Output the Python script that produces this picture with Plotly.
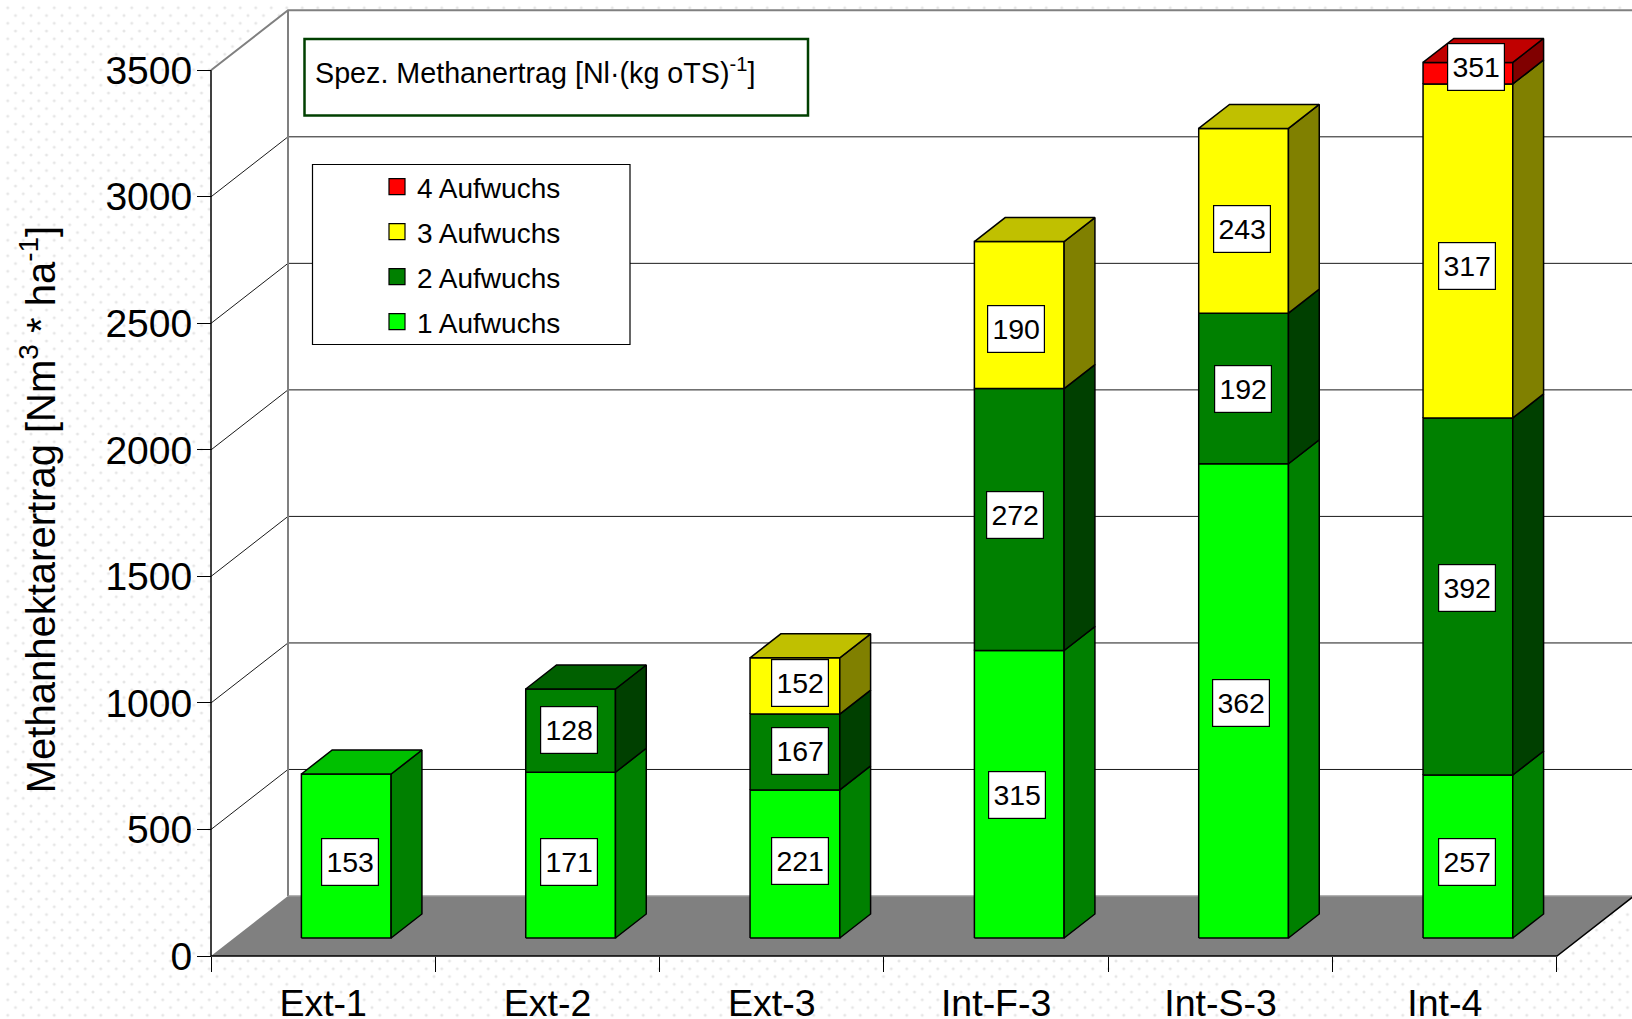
import plotly.graph_objects as go

# Cultivation systems along the x axis
categories = ["Ext-1", "Ext-2", "Ext-3", "Int-F-3", "Int-S-3", "Int-4"]

# Methane yield per hectare of each cut [Nm3/ha]
cut_1 = [648, 655, 585, 1136, 1874, 644]
cut_2 = [0, 329, 300, 1035, 595, 1411]
cut_3 = [0, 0, 222, 581, 730, 1320]
cut_4 = [0, 0, 0, 0, 0, 85]

# Specific methane yield printed on each segment [Nl/kg oTS]
spez_1 = [153, 171, 221, 315, 362, 257]
spez_2 = [None, 128, 167, 272, 192, 392]
spez_3 = [None, None, 152, 190, 243, 317]
spez_4 = [None, None, None, None, None, 351]

# Where the printed values sit, in axis units
spez_x_1 = [0.621, 1.594, 2.626, 3.593, 4.590, 5.599]
spez_y_1 = [370, 370, 377, 635, 999, 373]
spez_x_2 = [None, 1.594, 2.626, 3.583, 4.600, 5.599]
spez_y_2 = [None, 895, 812, 1744, 2241, 1456]
spez_x_3 = [None, None, 2.626, 3.588, 4.594, 5.599]
spez_y_3 = [None, None, 1077, 2476, 2873, 2725]
spez_x_4 = [None, None, None, None, None, 5.639]
spez_y_4 = [None, None, None, None, None, 3512]

y_ticks = [0, 500, 1000, 1500, 2000, 2500, 3000, 3500]

WIDTH, HEIGHT = 1632, 1019
PX_PER_CAT = 224.33
PX_PER_UNIT = 0.25306
ORIGIN_X, ORIGIN_Y = 211, 956
FONT = "Liberation Sans"

# Oblique projection: a full step into the chart moves right and up by this much
DEPTH_X = 77 / PX_PER_CAT
DEPTH_Y = 60 / PX_PER_UNIT
BAR_HALF = 0.2
BAR_NEAR, BAR_FAR = 0.3, 0.7

X_MIN = -ORIGIN_X / PX_PER_CAT
X_MAX = (WIDTH - ORIGIN_X) / PX_PER_CAT
Y_MIN = -(HEIGHT - ORIGIN_Y) / PX_PER_UNIT
Y_MAX = ORIGIN_Y / PX_PER_UNIT

series = [
    dict(name="1 Aufwuchs", values=cut_1, front="#00FF00", side="#008000", top="#00C000",
         spez=spez_1, sx=spez_x_1, sy=spez_y_1),
    dict(name="2 Aufwuchs", values=cut_2, front="#008000", side="#004000", top="#006000",
         spez=spez_2, sx=spez_x_2, sy=spez_y_2),
    dict(name="3 Aufwuchs", values=cut_3, front="#FFFF00", side="#808000", top="#C0C000",
         spez=spez_3, sx=spez_x_3, sy=spez_y_3),
    dict(name="4 Aufwuchs", values=cut_4, front="#FF0000", side="#800000", top="#C00000",
         spez=spez_4, sx=spez_x_4, sy=spez_y_4),
]

MAIN = dict(xaxis="x3", yaxis="y3")


def project(x, y, depth):
    return x + depth * DEPTH_X, y + depth * DEPTH_Y


def polygon(points, fill, line_color="#000000", line_width=1.5, name=None):
    xs = []
    ys = []
    for poly in points:
        closed = poly + [poly[0]]
        xs += [p[0] for p in closed] + [None]
        ys += [p[1] for p in closed] + [None]
    return go.Scatter(x=xs, y=ys, mode="lines", fill="toself", fillcolor=fill,
                      line=dict(color=line_color, width=line_width, simplify=False),
                      hoverinfo="skip", showlegend=False, name=name, **MAIN)


def segment(x0, x1, y0, y1, depth0, depth1, face):
    """Corner points of one face of a cuboid."""
    if face == "front":
        return [project(x0, y0, depth0), project(x1, y0, depth0),
                project(x1, y1, depth0), project(x0, y1, depth0)]
    if face == "side":
        return [project(x1, y0, depth0), project(x1, y0, depth1),
                project(x1, y1, depth1), project(x1, y1, depth0)]
    return [project(x0, y1, depth0), project(x1, y1, depth0),
            project(x1, y1, depth1), project(x0, y1, depth1)]


def wall_line(points, color="#000000", width=1.0):
    return go.Scatter(x=[p[0] for p in points], y=[p[1] for p in points], mode="lines",
                      line=dict(color=color, width=width), hoverinfo="skip",
                      showlegend=False, **MAIN)


traces = []

# Dotted page texture, two staggered lattices on hidden helper axes
for xa, ya in (("x", "y"), ("x2", "y2")):
    traces.append(go.Scatter(
        x=[0, 1, 1, 0, 0], y=[0, 0, 1, 1, 0], mode="lines", fill="toself",
        fillcolor="rgba(0,0,0,0)", line=dict(width=0), cliponaxis=False,
        fillpattern=dict(shape=".", size=15.5, solidity=0.03, fgcolor="#E6E6E6",
                         bgcolor="rgba(0,0,0,0)", fgopacity=1),
        hoverinfo="skip", showlegend=False, xaxis=xa, yaxis=ya))

top_level = y_ticks[-1]
wall_right = 6 + DEPTH_X

# White chart box: side wall and back wall
traces.append(polygon([[(0, 0), (0, top_level), (DEPTH_X, top_level + DEPTH_Y),
                        (wall_right, top_level + DEPTH_Y), (wall_right, DEPTH_Y), (6, 0)]],
                      "#FFFFFF", "rgba(0,0,0,0)", 0))

# Floor
traces.append(polygon([[(0, 0), (DEPTH_X, DEPTH_Y), (wall_right, DEPTH_Y), (6, 0)]],
                      "#808080", "rgba(0,0,0,0)", 0))

# Grid lines running along the side wall and the back wall
for level in y_ticks[1:-1]:
    traces.append(wall_line([(0, level), (DEPTH_X, level + DEPTH_Y), (wall_right, level + DEPTH_Y)],
                            "#1A1A1A", 1.0))
traces.append(wall_line([(0, top_level), (DEPTH_X, top_level + DEPTH_Y), (wall_right, top_level + DEPTH_Y)],
                        "#808080", 2.0))
traces.append(wall_line([(DEPTH_X, DEPTH_Y), (DEPTH_X, top_level + DEPTH_Y)], "#808080", 2.0))
traces.append(wall_line([(DEPTH_X, DEPTH_Y), (wall_right, DEPTH_Y)], "#9A9A9A", 1.5))

# Floor edges and the value axis line
traces.append(wall_line([(0, 0), (6, 0), (wall_right, DEPTH_Y)], "#000000", 1.5))
traces.append(wall_line([(0, 0), (0, top_level)], "#000000", 1.5))

# Stacked cuboids, bottom cut first
stack_top = [0] * len(categories)
for idx, s in enumerate(series):
    fronts, sides, tops = [], [], []
    for i, value in enumerate(s["values"]):
        if not value:
            continue
        x0 = i + 0.5 - BAR_HALF
        x1 = i + 0.5 + BAR_HALF
        y0 = stack_top[i]
        y1 = y0 + value
        stack_top[i] = y1
        fronts.append(segment(x0, x1, y0, y1, BAR_NEAR, BAR_FAR, "front"))
        sides.append(segment(x0, x1, y0, y1, BAR_NEAR, BAR_FAR, "side"))
        # The lid is only visible on the highest cut of a stack
        if all(not later["values"][i] for later in series[idx + 1:]):
            tops.append(segment(x0, x1, y0, y1, BAR_NEAR, BAR_FAR, "top"))
    traces.append(polygon(fronts, s["front"], name=s["name"]))
    traces.append(polygon(sides, s["side"], name=s["name"]))
    if tops:
        traces.append(polygon(tops, s["top"], name=s["name"]))

# Legend entries, highest cut listed first
for s in reversed(series):
    traces.append(go.Scatter(
        x=[None], y=[None], mode="markers", name=s["name"], legendgroup=s["name"],
        marker=dict(symbol="square", size=16, color=s["front"],
                    line=dict(color="#000000", width=1.2)), **MAIN))

fig = go.Figure(traces)

# Printed specific yields
annotations = []
for s in series:
    for value, ax, ay in zip(s["spez"], s["sx"], s["sy"]):
        if value is None:
            continue
        annotations.append(dict(
            x=ax, y=ay, xref="x3", yref="y3", text=str(value), showarrow=False,
            xanchor="center", yanchor="middle", align="center", valign="middle",
            width=56, height=46, borderpad=0, borderwidth=1.2, bordercolor="#000000",
            bgcolor="#FFFFFF", font=dict(family=FONT, size=28.5, color="#000000")))

annotations.append(dict(
    x=313 / WIDTH, y=1 - 71 / HEIGHT, xref="paper", yref="paper", xanchor="left", yanchor="middle",
    text="Spez. Methanertrag [Nl·(kg oTS)<sup>-1</sup>]", showarrow=False,
    font=dict(family=FONT, size=28.7, color="#000000")))

shapes = [
    dict(type="rect", xref="paper", yref="paper", layer="above",
         x0=304.5 / WIDTH, x1=808 / WIDTH, y0=1 - 115.5 / HEIGHT, y1=1 - 39 / HEIGHT,
         fillcolor="#FFFFFF", line=dict(color="#004000", width=2.5)),
    dict(type="rect", xref="paper", yref="paper", layer="above",
         x0=312.5 / WIDTH, x1=630 / WIDTH, y0=1 - 344.5 / HEIGHT, y1=1 - 164.5 / HEIGHT,
         fillcolor="#FFFFFF", line=dict(color="#000000", width=1.2)),
]

hidden = dict(visible=False, range=[0, 1], fixedrange=True)

fig.update_layout(
    width=WIDTH, height=HEIGHT, autosize=False,
    margin=dict(l=0, r=0, t=0, b=0, autoexpand=False),
    paper_bgcolor="#FFFFFF", plot_bgcolor="rgba(0,0,0,0)",
    font=dict(family=FONT, color="#000000"),
    annotations=annotations, shapes=shapes,
    legend=dict(x=377 / WIDTH, y=1 - 162 / HEIGHT, xanchor="left", yanchor="top",
                traceorder="grouped", tracegroupgap=5.6, itemwidth=30,
                bgcolor="rgba(0,0,0,0)", borderwidth=0, itemclick=False,
                font=dict(family=FONT, size=28, color="#000000")),
    # Helper axes for the page texture, shifted so the lattices interleave
    xaxis=dict(domain=[0, 1], anchor="y", **hidden),
    yaxis=dict(domain=[0, 1], anchor="x", **hidden),
    xaxis2=dict(domain=[7.75 / WIDTH, 1], anchor="y2", **hidden),
    yaxis2=dict(domain=[0, 1 - 7.75 / HEIGHT], anchor="x2", **hidden),
    xaxis3=dict(
        domain=[0, 1], range=[X_MIN, X_MAX], anchor="free",
        position=(HEIGHT - ORIGIN_Y) / HEIGHT, showgrid=False, zeroline=False, showline=False,
        tickmode="array", tickvals=[i + 0.5 for i in range(len(categories))], ticktext=categories,
        ticks="", ticklabelstandoff=21, tickfont=dict(family=FONT, size=37.5, color="#000000"),
        minor=dict(tickmode="array", tickvals=list(range(len(categories) + 1)),
                   ticks="outside", ticklen=15, tickwidth=1.2, tickcolor="#000000", showgrid=False),
        fixedrange=True),
    yaxis3=dict(
        domain=[0, 1], range=[Y_MIN, Y_MAX], anchor="free", position=ORIGIN_X / WIDTH,
        showgrid=False, zeroline=False, showline=False,
        tickmode="array", tickvals=y_ticks, ticktext=[str(v) for v in y_ticks],
        ticks="outside", ticklen=14, tickwidth=1.2, tickcolor="#000000",
        ticklabelstandoff=-3, tickfont=dict(family=FONT, size=39, color="#000000"),
        title=dict(text="Methanhektarertrag [Nm<sup>3</sup> * ha<sup>-1</sup>]", standoff=36,
                   font=dict(family=FONT, size=40, color="#000000")),
        fixedrange=True),
)

fig.write_html("out.html", config=dict(displayModeBar=False))
